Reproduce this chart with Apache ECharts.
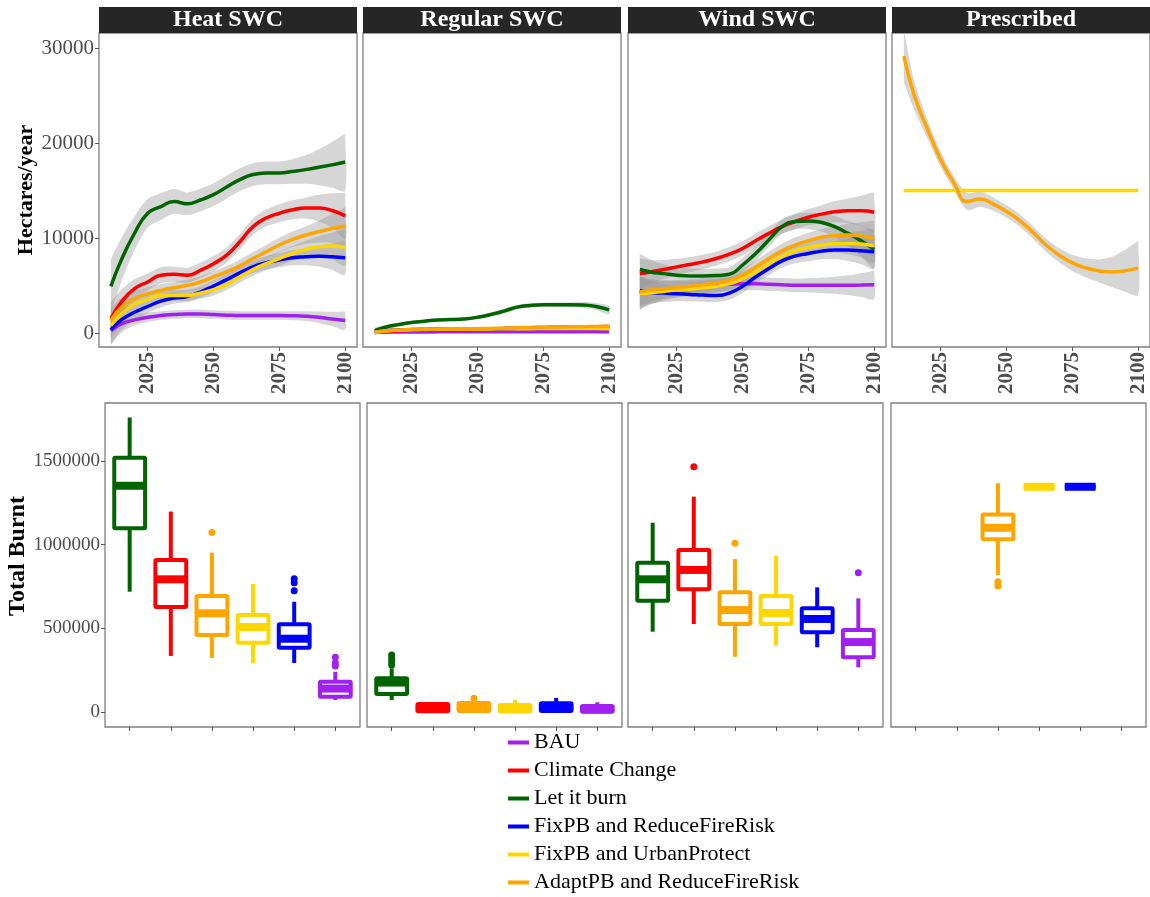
<!DOCTYPE html>
<html>
<head>
<meta charset="utf-8">
<script src="https://cdn.jsdelivr.net/npm/echarts@6.0.0/dist/echarts.min.js"></script>
<style>
    html, body { margin: 0; padding: 0; background: #fff; }
    #chart { width: 1150px; height: 897px; }
</style>
</head>
<body>
<div id="chart"></div>
<script>
// scenarios in legend order
var scenarios = ['BAU', 'Climate Change', 'Let it burn', 'FixPB and ReduceFireRisk', 'FixPB and UrbanProtect', 'AdaptPB and ReduceFireRisk'];
var scenarioColors = ['#A020F0', '#FF0000', '#006400', '#0000FF', '#FFD700', '#FFA500'];
var panels = ['Heat SWC', 'Regular SWC', 'Wind SWC', 'Prescribed'];

var years = [2011, 2015, 2020, 2025, 2030, 2035, 2040, 2045, 2050, 2055, 2060, 2065, 2070, 2075, 2080, 2085, 2090, 2095, 2100];
var yearTicks = [2025, 2050, 2075, 2100];
var haTicks = [0, 10000, 20000, 30000];
var burntTicks = [0, 500000, 1000000, 1500000];

// Heat SWC smooths (hectares/year) and ribbon half widths
var heatBAU = [250, 950, 1380, 1660, 1840, 1940, 2010, 2010, 1940, 1880, 1840, 1840, 1840, 1840, 1820, 1770, 1660, 1480, 1310];
var heatClimate = [1500, 3250, 4660, 5370, 6080, 6180, 6080, 6600, 7300, 8200, 9600, 11200, 12100, 12600, 12970, 13150, 13150, 12900, 12330];
var heatBurn = [4900, 7700, 10500, 12600, 13300, 13850, 13600, 14000, 14560, 15370, 16150, 16680, 16850, 16850, 17000, 17200, 17450, 17700, 18000];
var heatFixRFR = [350, 1380, 2190, 2790, 3360, 3670, 3850, 4310, 4950, 5620, 6330, 6960, 7390, 7670, 7920, 8020, 8090, 8020, 7920];
var heatFixUP = [780, 2000, 3000, 3530, 3960, 3960, 3960, 4200, 4560, 5120, 5900, 6680, 7310, 7840, 8370, 8800, 9080, 9150, 9010];
var heatAdapt = [1300, 2700, 3600, 4130, 4490, 4770, 5020, 5370, 5900, 6430, 7070, 7840, 8550, 9260, 9860, 10300, 10670, 11000, 11270];
var heatBAUSe = [1500, 900, 600, 500, 450, 450, 450, 450, 450, 450, 450, 450, 450, 450, 480, 520, 600, 750, 950];
var heatClimateSe = [1800, 1300, 1000, 900, 850, 800, 800, 800, 800, 800, 800, 850, 900, 950, 1000, 1100, 1400, 1800, 2400];
var heatBurnSe = [2900, 2300, 1800, 1500, 1400, 1300, 1200, 1200, 1200, 1200, 1200, 1200, 1200, 1200, 1300, 1500, 1900, 2400, 3000];
var heatFixRFRSe = [1600, 1100, 850, 700, 650, 600, 600, 600, 600, 600, 600, 650, 700, 750, 800, 900, 1100, 1400, 1800];
var heatFixUPSe = [1400, 1000, 800, 700, 650, 600, 600, 600, 600, 600, 620, 650, 700, 750, 800, 900, 1100, 1400, 1900];
var heatAdaptSe = [1300, 1000, 800, 700, 650, 600, 600, 600, 600, 620, 650, 680, 720, 760, 820, 920, 1150, 1500, 2000];

// Regular SWC
var regBAU = [80, 90, 100, 110, 110, 120, 120, 120, 130, 130, 130, 140, 140, 140, 140, 140, 140, 140, 140];
var regClimate = [120, 180, 240, 280, 320, 340, 350, 370, 390, 420, 470, 520, 560, 590, 610, 630, 650, 670, 690];
var regBurn = [250, 600, 880, 1100, 1240, 1380, 1410, 1480, 1660, 1940, 2300, 2720, 2900, 2970, 2970, 2970, 2950, 2790, 2440];
var regFixRFR = [150, 250, 330, 380, 400, 420, 420, 430, 440, 450, 470, 500, 520, 540, 560, 580, 600, 610, 620];
var regFixUP = [60, 200, 300, 360, 390, 400, 410, 410, 420, 430, 440, 450, 460, 470, 480, 480, 480, 470, 460];
var regAdapt = [100, 220, 300, 350, 380, 400, 420, 430, 450, 480, 510, 550, 580, 610, 630, 650, 670, 690, 700];
var regBurnSe = [350, 250, 200, 180, 170, 170, 170, 170, 180, 200, 220, 220, 220, 220, 230, 250, 300, 380, 480];
var regSmallSe = [250, 150, 110, 100, 90, 90, 90, 90, 90, 90, 90, 90, 90, 90, 90, 100, 120, 150, 200];

// Wind SWC
var windBAU = [4130, 4300, 4490, 4630, 4770, 4900, 5020, 5120, 5190, 5190, 5120, 5080, 5020, 5020, 5020, 5020, 5020, 5050, 5090];
var windClimate = [6250, 6430, 6680, 6960, 7210, 7490, 7840, 8300, 8900, 9720, 10490, 11200, 11730, 12190, 12510, 12760, 12860, 12860, 12720];
var windBurn = [6680, 6430, 6250, 6080, 6010, 6010, 6040, 6180, 7140, 8370, 9790, 11200, 11730, 11800, 11630, 11200, 10490, 9720, 8800];
var windFixRFR = [4490, 4270, 4200, 4130, 4060, 3990, 3960, 4200, 4910, 5900, 6780, 7600, 8090, 8370, 8620, 8730, 8730, 8660, 8550];
var windFixUP = [4130, 4240, 4380, 4520, 4630, 4770, 4910, 5190, 5720, 6430, 7310, 8090, 8660, 9010, 9260, 9400, 9430, 9360, 9190];
var windAdapt = [4310, 4490, 4630, 4770, 4910, 5090, 5270, 5550, 6080, 6960, 7840, 8660, 9260, 9720, 10070, 10250, 10320, 10210, 9960];
var windBAUSe = [1700, 1300, 1000, 850, 750, 700, 700, 700, 700, 700, 700, 700, 700, 750, 800, 900, 1050, 1250, 1500];
var windClimateSe = [1600, 1250, 1000, 850, 800, 750, 750, 750, 750, 750, 750, 750, 800, 850, 950, 1100, 1300, 1600, 2100];
var windBurnSe = [1700, 1300, 1000, 850, 800, 750, 750, 750, 750, 750, 750, 750, 800, 850, 950, 1100, 1300, 1600, 2000];
var windFixRFRSe = [1600, 1200, 950, 800, 750, 700, 700, 700, 700, 700, 700, 700, 750, 800, 850, 950, 1150, 1400, 1800];
var windFixUPSe = [1600, 1200, 950, 800, 750, 700, 700, 700, 700, 700, 700, 720, 750, 800, 850, 950, 1150, 1400, 1800];
var windAdaptSe = [1600, 1200, 950, 800, 750, 700, 700, 700, 700, 700, 720, 740, 780, 820, 880, 980, 1180, 1450, 1850];

// Prescribed
var prescFixUP = [15000, 15000, 15000, 15000, 15000, 15000, 15000, 15000, 15000, 15000, 15000, 15000, 15000, 15000, 15000, 15000, 15000, 15000, 15000];
var prescAdapt = [29150, 24980, 21450, 18270, 15800, 13850, 14100, 13570, 12790, 11840, 10600, 9260, 8200, 7380, 6860, 6540, 6430, 6540, 6860];
var prescAdaptSe = [2750, 1500, 1000, 800, 700, 900, 800, 700, 650, 650, 650, 700, 750, 850, 1000, 1200, 1600, 2200, 2850];

// boxplots: categories left to right (index into scenarios)
var boxOrder = [2, 1, 5, 4, 3, 0];
// rows: [low whisker, Q1, median, Q3, high whisker]
var heatBox = [
    [719000, 1098000, 1352000, 1520000, 1760000],
    [335000, 627000, 793000, 908000, 1198000],
    [323000, 460000, 590000, 693000, 952000],
    [293000, 414000, 508000, 580000, 766000],
    [293000, 384000, 438000, 524000, 659000],
    [72000, 91000, 140000, 181000, 240000]
];
var regBox = [
    [72000, 108000, 176000, 201000, 261000],
    [3000, 5000, 28000, 48000, 58000],
    [3000, 6000, 32000, 54000, 60000],
    [0, 3000, 22000, 42000, 72000],
    [3000, 6000, 30000, 52000, 84000],
    [0, 2000, 16000, 36000, 58000]
];
var windBox = [
    [480000, 665000, 793000, 892000, 1131000],
    [526000, 733000, 849000, 968000, 1287000],
    [330000, 526000, 609000, 715000, 914000],
    [396000, 526000, 592000, 693000, 934000],
    [387000, 476000, 556000, 620000, 745000],
    [267000, 327000, 418000, 490000, 679000]
];
var prescBox = [
    null,
    null,
    [819000, 1032000, 1101000, 1181000, 1367000],
    [1346000, 1346000, 1346000, 1346000, 1346000],
    [1346000, 1346000, 1346000, 1346000, 1346000],
    null
];
// outliers: [category, value]
var heatOut = [[2, 1072000], [4, 796000], [4, 772000], [4, 725000], [5, 327000], [5, 295000], [5, 275000]];
var regOut = [[0, 341000], [0, 320000], [0, 300000], [0, 281000], [2, 82000]];
var windOut = [[1, 1466000], [2, 1008000], [5, 832000]];
var prescOut = [[2, 779000], [2, 753000]];

var topLines = [
    [heatBAU, heatClimate, heatBurn, heatFixRFR, heatFixUP, heatAdapt],
    [regBAU, regClimate, regBurn, regFixRFR, regFixUP, regAdapt],
    [windBAU, windClimate, windBurn, windFixRFR, windFixUP, windAdapt],
    [null, null, null, null, prescFixUP, prescAdapt]
];
var topSe = [
    [heatBAUSe, heatClimateSe, heatBurnSe, heatFixRFRSe, heatFixUPSe, heatAdaptSe],
    [regSmallSe, regSmallSe, regBurnSe, regSmallSe, regSmallSe, regSmallSe],
    [windBAUSe, windClimateSe, windBurnSe, windFixRFRSe, windFixUPSe, windAdaptSe],
    [null, null, null, null, null, prescAdaptSe]
];
var boxes = [heatBox, regBox, windBox, prescBox];
var outs = [heatOut, regOut, windOut, prescOut];

var serif = "'Liberation Serif', 'DejaVu Serif', serif";
var topLeft = [99, 363, 628, 892], topW = 258;
var botLeft = [105, 367, 628, 891], botW = 255;
var plain = function (v) { return String(v); };

var grids = [], xAxes = [], yAxes = [], series = [], graphics = [];

function ribbon(gi, mid, se) {
    return {
        type: 'custom', xAxisIndex: gi, yAxisIndex: gi, silent: true, clip: true,
        data: years.map(function (y, k) { return [y, mid[k] - se[k], mid[k] + se[k]]; }),
        renderItem: function (params, api) {
            if (params.dataIndex !== 0) return null;
            var n = years.length, pts = [];
            for (var k = 0; k < n; k++) pts.push(api.coord([years[k], mid[k] + se[k]]));
            pts.push(pts[n - 1]); // doubled corner keeps the ends square
            for (var k2 = n - 1; k2 >= 0; k2--) pts.push(api.coord([years[k2], mid[k2] - se[k2]]));
            pts.push(pts[pts.length - 1]);
            pts.unshift(pts[0]);
            return {
                type: 'polygon',
                shape: {points: pts, smooth: 0.3},
                style: {fill: 'rgba(153,153,153,0.4)'}
            };
        }
    };
}

function boxSeries(gi, rows) {
    var data = [];
    rows.forEach(function (r, c) { if (r) data.push([c].concat(r)); });
    return {
        type: 'custom', xAxisIndex: gi, yAxisIndex: gi, silent: true,
        data: data,
        encode: {x: 0, y: [1, 2, 3, 4, 5]},
        renderItem: function (params, api) {
            var c = api.value(0);
            var col = scenarioColors[boxOrder[c]];
            var lo = api.coord([c, api.value(1)]);
            var q1 = api.coord([c, api.value(2)]);
            var md = api.coord([c, api.value(3)]);
            var q3 = api.coord([c, api.value(4)]);
            var hi = api.coord([c, api.value(5)]);
            var hw = api.size([0.375, 0])[0];
            var x = lo[0];
            return {
                type: 'group',
                children: [
                    {type: 'line', shape: {x1: x, y1: hi[1], x2: x, y2: q3[1]}, style: {stroke: col, lineWidth: 4}},
                    {type: 'line', shape: {x1: x, y1: q1[1], x2: x, y2: lo[1]}, style: {stroke: col, lineWidth: 4}},
                    {type: 'rect', shape: {x: x - hw, y: q3[1], width: 2 * hw, height: q1[1] - q3[1], r: 1},
                        style: {fill: '#fff', stroke: col, lineWidth: 4}},
                    {type: 'line', shape: {x1: x - hw, y1: md[1], x2: x + hw, y2: md[1]}, style: {stroke: col, lineWidth: 8}}
                ]
            };
        }
    };
}

// top row: smooth lines
panels.forEach(function (p, i) {
    grids.push({left: topLeft[i], top: 33, width: topW, height: 314,
        show: true, borderColor: '#7f7f7f', borderWidth: 1.3, backgroundColor: '#fff'});
    xAxes.push({
        type: 'value', gridIndex: i, min: 2006.5, max: 2104.5,
        axisLine: {show: false, onZero: false}, splitLine: {show: false},
        axisTick: {show: true, customValues: yearTicks, length: 4, lineStyle: {color: '#555'}},
        axisLabel: {customValues: yearTicks, formatter: plain, rotate: 90, margin: 5, fontFamily: serif,
            fontWeight: 'bold', fontSize: 21, color: '#4d4d4d'}
    });
    yAxes.push({
        type: 'value', gridIndex: i, min: -1474, max: 31580,
        axisLine: {show: false, onZero: false}, splitLine: {show: false},
        axisTick: {show: i === 0, customValues: haTicks, length: 4, lineStyle: {color: '#555'}},
        axisLabel: {show: i === 0, customValues: haTicks, formatter: plain, margin: 5,
            fontFamily: serif, fontSize: 21, color: '#4d4d4d'},
        name: i === 0 ? 'Hectares/year' : '', nameLocation: 'middle', nameGap: 62, nameRotate: 90,
        nameTextStyle: {fontFamily: serif, fontWeight: 'bold', fontSize: 22, color: '#000'}
    });
    scenarios.forEach(function (s, k) {
        var vals = topLines[i][k];
        if (!vals) return;
        var se = topSe[i][k];
        if (se) series.push(ribbon(i, vals, se));
        series.push({
            name: s, type: 'line', xAxisIndex: i, yAxisIndex: i, silent: true,
            smooth: true, showSymbol: false,
            data: years.map(function (y, j) { return [y, vals[j]]; }),
            itemStyle: {color: scenarioColors[k]},
            lineStyle: {color: scenarioColors[k], width: 3.5}
        });
    });
    graphics.push({
        type: 'rect', shape: {x: topLeft[i], y: 7, width: topW, height: 26},
        style: {fill: '#262626'}
    });
    graphics.push({
        type: 'text', x: topLeft[i] + topW / 2, y: 20,
        style: {text: p, fill: '#fff', font: 'bold 24px ' + serif, textAlign: 'center', textVerticalAlign: 'middle'}
    });
});

// bottom row: boxplots of total burnt
panels.forEach(function (p, i) {
    var gi = i + 4;
    grids.push({left: botLeft[i], top: 403, width: botW, height: 324,
        show: true, borderColor: '#7f7f7f', borderWidth: 1.3, backgroundColor: '#fff'});
    xAxes.push({
        type: 'value', gridIndex: gi, min: -0.6, max: 5.6,
        axisLine: {show: false, onZero: false}, splitLine: {show: false},
        axisTick: {show: true, customValues: [0, 1, 2, 3, 4, 5], length: 4, lineStyle: {color: '#555'}},
        axisLabel: {show: false}
    });
    yAxes.push({
        type: 'value', gridIndex: gi, min: -89600, max: 1846600,
        axisLine: {show: false, onZero: false}, splitLine: {show: false},
        axisTick: {show: i === 0, customValues: burntTicks, length: 4, lineStyle: {color: '#555'}},
        axisLabel: {show: i === 0, customValues: burntTicks, formatter: plain, margin: 5,
            fontFamily: serif, fontSize: 19, color: '#4d4d4d'},
        name: i === 0 ? 'Total Burnt' : '', nameLocation: 'middle', nameGap: 57, nameRotate: 90,
        nameTextStyle: {fontFamily: serif, fontWeight: 'bold', fontSize: 24, color: '#000', padding: [0, 0, 0, 18]}
    });
    series.push(boxSeries(gi, boxes[i]));
    series.push({
        type: 'scatter', xAxisIndex: gi, yAxisIndex: gi, silent: true,
        symbolSize: 7, data: outs[i],
        itemStyle: {
            color: function (params) { return scenarioColors[boxOrder[params.value[0]]]; },
            opacity: 1
        }
    });
});

var chart = echarts.init(document.getElementById('chart'));
chart.setOption({
    animation: false,
    backgroundColor: '#fff',
    grid: grids,
    xAxis: xAxes,
    yAxis: yAxes,
    legend: {
        orient: 'vertical', left: 508, top: 731, padding: 0,
        itemWidth: 21, itemHeight: 4, itemGap: 5, icon: 'rect',
        selectedMode: false, data: scenarios,
        textStyle: {fontFamily: serif, fontSize: 22, color: '#000', lineHeight: 23}
    },
    graphic: graphics,
    series: series
});
</script>
</body>
</html>
